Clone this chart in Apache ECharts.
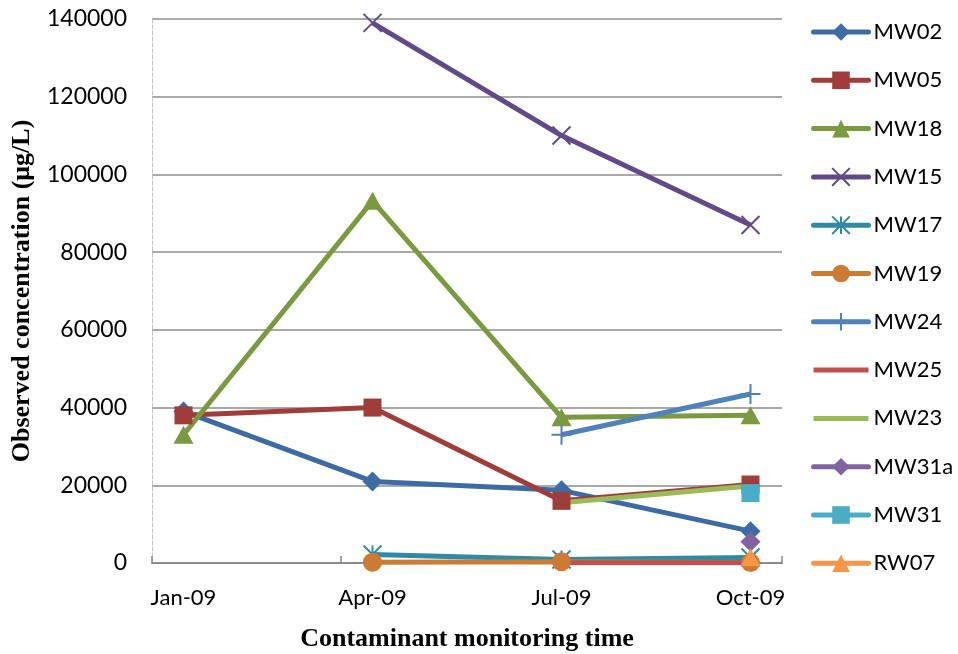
<!DOCTYPE html>
<html>
<head>
<meta charset="utf-8">
<script src="https://cdn.jsdelivr.net/npm/echarts@6/dist/echarts.min.js"></script>
<style>
  html, body { margin: 0; padding: 0; background: #fff; }
  #chart { width: 958px; height: 654px; }
</style>
</head>
<body>
<div id="chart"></div>
<script>
// Monthly axis (one category per month) and the quarterly sampling dates
const axisMonths = ['Jan-09', 'Feb-09', 'Mar-09', 'Apr-09', 'May-09', 'Jun-09', 'Jul-09', 'Aug-09', 'Sep-09', 'Oct-09'];
const sampleMonths = ['Jan-09', 'Apr-09', 'Jul-09', 'Oct-09'];

// Observed concentrations (µg/L) at each sampling date; null = not sampled
const MW02 = [39000, 21000, 18700, 8200];
const MW05 = [38000, 40000, 16000, 20200];
const MW18 = [33000, 93200, 37500, 38000];
const MW15 = [null, 139000, 110000, 87000];
const MW17 = [null, 2200, 900, 1400];
const MW19 = [null, 200, 300, 100];
const MW24 = [null, null, 33000, 43500];
const MW25 = [null, null, 50, 50];
const MW23 = [null, null, 15500, 19800];
const MW31a = [null, null, null, 5500];
const MW31 = [null, null, null, 18000];
const RW07 = [null, null, null, 1500];

const yTicks = { min: 0, max: 140000, step: 20000 };

// Spread quarterly samples over the monthly category axis
function toMonthly(values) {
  return axisMonths.map(function (m) {
    const i = sampleMonths.indexOf(m);
    return (i >= 0 && values[i] !== null) ? values[i] : '-';
  });
}

const crossPath = 'path://M0,0L10,10M10,0L0,10';
const starPath = 'path://M5,0L5,10M0,0L10,10M10,0L0,10';
const plusPath = 'path://M5,0L5,10M0,5L10,5';
// plain line swatch for the series drawn without markers
const lineIcon = 'path://M0,0L0.01,0ZM0,8.5L55,8.5L55,13.5L0,13.5ZM0,22L0.01,22Z';

function series(name, values, color, symbol, size, stroked) {
  const s = {
    name: name,
    type: 'line',
    data: toMonthly(values),
    connectNulls: true,
    symbol: symbol,
    symbolSize: size,
    showSymbol: symbol !== 'none',
    lineStyle: { color: color, width: 5 },
    itemStyle: { color: color },
    emphasis: { disabled: true },
    animation: false
  };
  if (stroked) {
    s.itemStyle.borderColor = color;
    s.itemStyle.borderWidth = 2;
  }
  return s;
}

const legendNames = ['MW02', 'MW05', 'MW18', 'MW15', 'MW17', 'MW19', 'MW24', 'MW25', 'MW23', 'MW31a', 'MW31', 'RW07'];

const chart = echarts.init(document.getElementById('chart'), null, { renderer: 'canvas' });

chart.setOption({
  backgroundColor: '#ffffff',
  animation: false,
  grid: { left: 152, right: 176, top: 19, bottom: 91, containLabel: false, outerBoundsMode: 'none' },
  legend: {
    orient: 'vertical',
    left: 806,
    top: 16,
    itemWidth: 55,
    itemHeight: 22,
    itemGap: 26.3,
    lineStyle: { width: 5, cap: 'round' },
    textStyle: { fontFamily: 'Lato', fontSize: 22, color: '#000' },
    data: legendNames.map(function (n) {
      return (n === 'MW25' || n === 'MW23') ? { name: n, icon: lineIcon } : n;
    })
  },
  xAxis: {
    type: 'category',
    data: axisMonths,
    boundaryGap: true,
    name: 'Contaminant monitoring time',
    nameLocation: 'middle',
    nameGap: 63,
    nameTextStyle: { fontFamily: 'Liberation Serif', fontWeight: 'bold', fontSize: 26, color: '#000' },
    axisLine: { show: true, lineStyle: { color: '#8a8a8a', width: 2 } },
    axisTick: { show: true, inside: true, length: 7, interval: 2, lineStyle: { color: '#8a8a8a', width: 1.5 } },
    axisLabel: { interval: 2, margin: 24, fontFamily: 'Lato', fontSize: 22, color: '#000' },
    splitLine: { show: false }
  },
  yAxis: {
    type: 'value',
    min: yTicks.min,
    max: yTicks.max,
    interval: yTicks.step,
    name: 'Observed concentration (\u03bcg/L)',
    nameLocation: 'middle',
    nameGap: 117,
    nameTextStyle: { fontFamily: 'Liberation Serif', fontWeight: 'bold', fontSize: 26, color: '#000' },
    axisLine: { show: true, lineStyle: { color: '#c4c4c4', width: 1, type: [4, 2] } },
    axisTick: { show: false },
    axisLabel: {
      margin: 25, fontFamily: 'Lato', fontSize: 23, color: '#000',
      formatter: function (v) { return String(v); }
    },
    splitLine: { show: true, lineStyle: { color: '#8c8c8c', width: 1.5 } }
  },
  series: [
    series('MW02', MW02, '#3d6ba6', 'diamond', 20, false),
    series('MW05', MW05, '#9f3d3b', 'rect', 18, false),
    series('MW18', MW18, '#7b9a3f', 'triangle', [20, 18], false),
    series('MW15', MW15, '#604a87', crossPath, 18, true),
    series('MW17', MW17, '#2f8ba5', starPath, 18, true),
    series('MW19', MW19, '#cc7a34', 'circle', 19, false),
    series('MW24', MW24, '#4f81bd', plusPath, 20, true),
    series('MW25', MW25, '#c0504d', 'none', 0, false),
    series('MW23', MW23, '#9bbb59', 'none', 0, false),
    series('MW31a', MW31a, '#8064a2', 'diamond', 20, false),
    series('MW31', MW31, '#4bacc6', 'rect', 18, false),
    series('RW07', RW07, '#f79646', 'triangle', [20, 18], false)
  ]
});
</script>
</body>
</html>
